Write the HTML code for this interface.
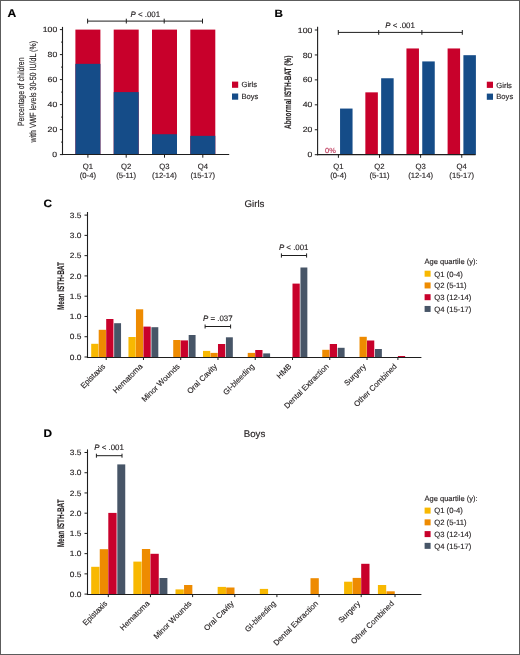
<!DOCTYPE html>
<html><head><meta charset="utf-8"><style>
html,body{margin:0;padding:0;background:#fff;}
body{width:520px;height:655px;overflow:hidden;}
svg{display:block;will-change:transform;opacity:0.999;font-family:"Liberation Sans",sans-serif;text-rendering:geometricPrecision;}
text{stroke-width:0.15px;paint-order:stroke;}
</style></head><body>
<svg width="520" height="655" viewBox="0 0 520 655">
<rect x="0" y="0" width="520" height="655" fill="#fff"/>
<rect x="75.40" y="29.60" width="25.00" height="125.00" fill="#c8002b"/>
<rect x="75.40" y="63.85" width="25.00" height="90.75" fill="#154c88"/>
<rect x="113.70" y="29.60" width="25.00" height="125.00" fill="#c8002b"/>
<rect x="113.70" y="92.10" width="25.00" height="62.50" fill="#154c88"/>
<rect x="152.00" y="29.60" width="25.00" height="125.00" fill="#c8002b"/>
<rect x="152.00" y="134.22" width="25.00" height="20.38" fill="#154c88"/>
<rect x="190.30" y="29.60" width="25.00" height="125.00" fill="#c8002b"/>
<rect x="190.30" y="135.85" width="25.00" height="18.75" fill="#154c88"/>
<rect x="232.00" y="81.60" width="6.20" height="6.20" fill="#c8002b"/>
<rect x="232.00" y="93.50" width="6.20" height="6.20" fill="#154c88"/>
<rect x="340.05" y="108.56" width="12.50" height="46.14" fill="#154c88"/>
<rect x="365.35" y="92.35" width="12.50" height="62.35" fill="#c8002b"/>
<rect x="381.15" y="78.26" width="12.50" height="76.44" fill="#154c88"/>
<rect x="406.45" y="48.46" width="12.50" height="106.24" fill="#c8002b"/>
<rect x="422.25" y="61.42" width="12.50" height="93.28" fill="#154c88"/>
<rect x="447.60" y="48.46" width="12.50" height="106.24" fill="#c8002b"/>
<rect x="463.40" y="55.19" width="12.50" height="99.51" fill="#154c88"/>
<rect x="486.80" y="81.70" width="6.20" height="6.20" fill="#c8002b"/>
<rect x="486.80" y="93.60" width="6.20" height="6.20" fill="#154c88"/>
<rect x="91.20" y="343.80" width="7.25" height="13.20" fill="#f8b800"/>
<rect x="98.70" y="329.80" width="7.25" height="27.20" fill="#ee8b00"/>
<rect x="106.20" y="319.00" width="7.25" height="38.00" fill="#c8002b"/>
<rect x="114.15" y="323.20" width="6.90" height="33.80" fill="#475567"/>
<rect x="128.46" y="337.00" width="7.25" height="20.00" fill="#f8b800"/>
<rect x="135.96" y="309.30" width="7.25" height="47.70" fill="#ee8b00"/>
<rect x="143.46" y="326.60" width="7.25" height="30.40" fill="#c8002b"/>
<rect x="151.41" y="327.20" width="6.90" height="29.80" fill="#475567"/>
<rect x="173.22" y="340.00" width="7.25" height="17.00" fill="#ee8b00"/>
<rect x="180.72" y="340.40" width="7.25" height="16.60" fill="#c8002b"/>
<rect x="188.67" y="335.00" width="6.90" height="22.00" fill="#475567"/>
<rect x="202.98" y="350.90" width="7.25" height="6.10" fill="#f8b800"/>
<rect x="210.48" y="352.90" width="7.25" height="4.10" fill="#ee8b00"/>
<rect x="217.98" y="344.00" width="7.25" height="13.00" fill="#c8002b"/>
<rect x="225.93" y="337.30" width="6.90" height="19.70" fill="#475567"/>
<rect x="247.74" y="352.90" width="7.25" height="4.10" fill="#ee8b00"/>
<rect x="255.24" y="350.00" width="7.25" height="7.00" fill="#c8002b"/>
<rect x="263.19" y="353.40" width="6.90" height="3.60" fill="#475567"/>
<rect x="292.50" y="283.60" width="7.25" height="73.40" fill="#c8002b"/>
<rect x="300.45" y="267.50" width="6.90" height="89.50" fill="#475567"/>
<rect x="322.26" y="349.80" width="7.25" height="7.20" fill="#ee8b00"/>
<rect x="329.76" y="344.00" width="7.25" height="13.00" fill="#c8002b"/>
<rect x="337.71" y="347.80" width="6.90" height="9.20" fill="#475567"/>
<rect x="359.52" y="336.80" width="7.25" height="20.20" fill="#ee8b00"/>
<rect x="367.02" y="340.50" width="7.25" height="16.50" fill="#c8002b"/>
<rect x="374.97" y="349.00" width="6.90" height="8.00" fill="#475567"/>
<rect x="397.90" y="356.00" width="7.25" height="1.00" fill="#c8002b"/>
<rect x="424.60" y="270.70" width="6.00" height="6.00" fill="#f8b800"/>
<rect x="424.60" y="282.45" width="6.00" height="6.00" fill="#ee8b00"/>
<rect x="424.60" y="294.20" width="6.00" height="6.00" fill="#c8002b"/>
<rect x="424.60" y="305.95" width="6.00" height="6.00" fill="#475567"/>
<rect x="91.20" y="566.80" width="8.30" height="27.30" fill="#f8b800"/>
<rect x="99.75" y="549.20" width="8.30" height="44.90" fill="#ee8b00"/>
<rect x="108.30" y="512.90" width="8.30" height="81.20" fill="#c8002b"/>
<rect x="117.30" y="464.40" width="7.95" height="129.70" fill="#475567"/>
<rect x="133.35" y="561.60" width="8.30" height="32.50" fill="#f8b800"/>
<rect x="141.90" y="549.00" width="8.30" height="45.10" fill="#ee8b00"/>
<rect x="150.45" y="553.80" width="8.30" height="40.30" fill="#c8002b"/>
<rect x="159.45" y="578.00" width="7.95" height="16.10" fill="#475567"/>
<rect x="175.50" y="589.40" width="8.30" height="4.70" fill="#f8b800"/>
<rect x="184.05" y="585.00" width="8.30" height="9.10" fill="#ee8b00"/>
<rect x="217.65" y="586.90" width="8.30" height="7.20" fill="#f8b800"/>
<rect x="226.20" y="587.50" width="8.30" height="6.60" fill="#ee8b00"/>
<rect x="259.80" y="588.90" width="8.30" height="5.20" fill="#f8b800"/>
<rect x="310.50" y="578.20" width="8.30" height="15.90" fill="#ee8b00"/>
<rect x="344.10" y="581.70" width="8.30" height="12.40" fill="#f8b800"/>
<rect x="352.65" y="577.90" width="8.30" height="16.20" fill="#ee8b00"/>
<rect x="361.20" y="563.80" width="8.30" height="30.30" fill="#c8002b"/>
<rect x="377.90" y="585.00" width="8.30" height="9.10" fill="#f8b800"/>
<rect x="386.45" y="591.30" width="8.30" height="2.80" fill="#ee8b00"/>
<rect x="424.60" y="507.60" width="6.00" height="6.00" fill="#f8b800"/>
<rect x="424.60" y="519.35" width="6.00" height="6.00" fill="#ee8b00"/>
<rect x="424.60" y="531.10" width="6.00" height="6.00" fill="#c8002b"/>
<rect x="424.60" y="542.85" width="6.00" height="6.00" fill="#475567"/>
<text transform="translate(7.4,17.2) scale(1.08,1)" font-size="11.2" font-weight="bold" fill="#000" stroke="#000">A</text>
<line x1="62.50" y1="26.90" x2="62.50" y2="155.05" stroke="#1e1e1e" stroke-width="1.1"/>
<line x1="61.95" y1="154.50" x2="229.20" y2="154.50" stroke="#1e1e1e" stroke-width="1.1"/>
<line x1="59.90" y1="154.60" x2="62.50" y2="154.60" stroke="#1e1e1e" stroke-width="1.0"/>
<text transform="translate(57.20,157.20) scale(1.14,1)" font-size="7.6" text-anchor="end" fill="#231f20" stroke="#231f20">0</text>
<line x1="61.00" y1="142.10" x2="62.50" y2="142.10" stroke="#1e1e1e" stroke-width="0.9"/>
<line x1="59.90" y1="129.60" x2="62.50" y2="129.60" stroke="#1e1e1e" stroke-width="1.0"/>
<text transform="translate(57.20,132.20) scale(1.14,1)" font-size="7.6" text-anchor="end" fill="#231f20" stroke="#231f20">20</text>
<line x1="61.00" y1="117.10" x2="62.50" y2="117.10" stroke="#1e1e1e" stroke-width="0.9"/>
<line x1="59.90" y1="104.60" x2="62.50" y2="104.60" stroke="#1e1e1e" stroke-width="1.0"/>
<text transform="translate(57.20,107.20) scale(1.14,1)" font-size="7.6" text-anchor="end" fill="#231f20" stroke="#231f20">40</text>
<line x1="61.00" y1="92.10" x2="62.50" y2="92.10" stroke="#1e1e1e" stroke-width="0.9"/>
<line x1="59.90" y1="79.60" x2="62.50" y2="79.60" stroke="#1e1e1e" stroke-width="1.0"/>
<text transform="translate(57.20,82.20) scale(1.14,1)" font-size="7.6" text-anchor="end" fill="#231f20" stroke="#231f20">60</text>
<line x1="61.00" y1="67.10" x2="62.50" y2="67.10" stroke="#1e1e1e" stroke-width="0.9"/>
<line x1="59.90" y1="54.60" x2="62.50" y2="54.60" stroke="#1e1e1e" stroke-width="1.0"/>
<text transform="translate(57.20,57.20) scale(1.14,1)" font-size="7.6" text-anchor="end" fill="#231f20" stroke="#231f20">80</text>
<line x1="61.00" y1="42.10" x2="62.50" y2="42.10" stroke="#1e1e1e" stroke-width="0.9"/>
<line x1="59.90" y1="29.60" x2="62.50" y2="29.60" stroke="#1e1e1e" stroke-width="1.0"/>
<text transform="translate(57.20,32.20) scale(1.14,1)" font-size="7.6" text-anchor="end" fill="#231f20" stroke="#231f20">100</text>
<line x1="87.90" y1="154.60" x2="87.90" y2="157.70" stroke="#1e1e1e" stroke-width="1.0"/>
<text x="87.90" y="169.20" font-size="7.7" text-anchor="middle" font-weight="normal" fill="#231f20" stroke="#231f20" >Q1</text>
<text x="87.90" y="177.90" font-size="7.7" text-anchor="middle" font-weight="normal" fill="#231f20" stroke="#231f20" >(0-4)</text>
<line x1="126.20" y1="154.60" x2="126.20" y2="157.70" stroke="#1e1e1e" stroke-width="1.0"/>
<text x="126.20" y="169.20" font-size="7.7" text-anchor="middle" font-weight="normal" fill="#231f20" stroke="#231f20" >Q2</text>
<text x="126.20" y="177.90" font-size="7.7" text-anchor="middle" font-weight="normal" fill="#231f20" stroke="#231f20" >(5-11)</text>
<line x1="164.50" y1="154.60" x2="164.50" y2="157.70" stroke="#1e1e1e" stroke-width="1.0"/>
<text x="164.50" y="169.20" font-size="7.7" text-anchor="middle" font-weight="normal" fill="#231f20" stroke="#231f20" >Q3</text>
<text x="164.50" y="177.90" font-size="7.7" text-anchor="middle" font-weight="normal" fill="#231f20" stroke="#231f20" >(12-14)</text>
<line x1="202.80" y1="154.60" x2="202.80" y2="157.70" stroke="#1e1e1e" stroke-width="1.0"/>
<text x="202.80" y="169.20" font-size="7.7" text-anchor="middle" font-weight="normal" fill="#231f20" stroke="#231f20" >Q4</text>
<text x="202.80" y="177.90" font-size="7.7" text-anchor="middle" font-weight="normal" fill="#231f20" stroke="#231f20" >(15-17)</text>
<line x1="87.60" y1="21.10" x2="202.50" y2="21.10" stroke="#1e1e1e" stroke-width="1.0"/>
<line x1="87.60" y1="18.70" x2="87.60" y2="23.50" stroke="#1e1e1e" stroke-width="1.0"/>
<line x1="202.50" y1="18.70" x2="202.50" y2="23.50" stroke="#1e1e1e" stroke-width="1.0"/>
<line x1="126.30" y1="18.70" x2="126.30" y2="23.50" stroke="#1e1e1e" stroke-width="1.0"/>
<line x1="164.20" y1="18.70" x2="164.20" y2="23.50" stroke="#1e1e1e" stroke-width="1.0"/>
<text x="145.35" y="16.60" font-size="7.9" text-anchor="middle" fill="#231f20" stroke="#231f20"><tspan font-style="italic">P</tspan> &lt; .001</text>
<text x="241.50" y="87.40" font-size="7.6" text-anchor="start" font-weight="normal" fill="#231f20" stroke="#231f20" >Girls</text>
<text x="241.50" y="99.30" font-size="7.6" text-anchor="start" font-weight="normal" fill="#231f20" stroke="#231f20" >Boys</text>
<text transform="translate(23.80,91.80) rotate(-90)" font-size="9.0" text-anchor="middle" font-weight="normal" fill="#231f20" stroke="#231f20" textLength="68.5" lengthAdjust="spacingAndGlyphs">Percentage of children</text>
<text transform="translate(35.70,91.80) rotate(-90)" font-size="9.0" text-anchor="middle" font-weight="normal" fill="#231f20" stroke="#231f20" textLength="101.6" lengthAdjust="spacingAndGlyphs">with VWF levels 30-50 IU/dL (%)</text>
<text transform="translate(274.6,17.4) scale(1.1,1)" font-size="10.6" font-weight="bold" fill="#000" stroke="#000">B</text>
<line x1="317.60" y1="26.80" x2="317.60" y2="155.15" stroke="#1e1e1e" stroke-width="1.1"/>
<line x1="317.05" y1="154.60" x2="475.60" y2="154.60" stroke="#1e1e1e" stroke-width="1.1"/>
<line x1="314.80" y1="154.70" x2="317.60" y2="154.70" stroke="#1e1e1e" stroke-width="1.0"/>
<text transform="translate(312.30,157.30) scale(1.14,1)" font-size="7.6" text-anchor="end" fill="#231f20" stroke="#231f20">0</text>
<line x1="314.80" y1="129.76" x2="317.60" y2="129.76" stroke="#1e1e1e" stroke-width="1.0"/>
<text transform="translate(312.30,132.36) scale(1.14,1)" font-size="7.6" text-anchor="end" fill="#231f20" stroke="#231f20">20</text>
<line x1="314.80" y1="104.82" x2="317.60" y2="104.82" stroke="#1e1e1e" stroke-width="1.0"/>
<text transform="translate(312.30,107.42) scale(1.14,1)" font-size="7.6" text-anchor="end" fill="#231f20" stroke="#231f20">40</text>
<line x1="314.80" y1="79.88" x2="317.60" y2="79.88" stroke="#1e1e1e" stroke-width="1.0"/>
<text transform="translate(312.30,82.48) scale(1.14,1)" font-size="7.6" text-anchor="end" fill="#231f20" stroke="#231f20">60</text>
<line x1="314.80" y1="54.94" x2="317.60" y2="54.94" stroke="#1e1e1e" stroke-width="1.0"/>
<text transform="translate(312.30,57.54) scale(1.14,1)" font-size="7.6" text-anchor="end" fill="#231f20" stroke="#231f20">80</text>
<line x1="314.80" y1="30.00" x2="317.60" y2="30.00" stroke="#1e1e1e" stroke-width="1.0"/>
<text transform="translate(312.30,32.60) scale(1.14,1)" font-size="7.6" text-anchor="end" fill="#231f20" stroke="#231f20">100</text>
<line x1="338.40" y1="154.70" x2="338.40" y2="157.80" stroke="#1e1e1e" stroke-width="1.0"/>
<text x="338.40" y="169.20" font-size="7.7" text-anchor="middle" font-weight="normal" fill="#231f20" stroke="#231f20" >Q1</text>
<text x="338.40" y="177.90" font-size="7.7" text-anchor="middle" font-weight="normal" fill="#231f20" stroke="#231f20" >(0-4)</text>
<line x1="379.50" y1="154.70" x2="379.50" y2="157.80" stroke="#1e1e1e" stroke-width="1.0"/>
<text x="379.50" y="169.20" font-size="7.7" text-anchor="middle" font-weight="normal" fill="#231f20" stroke="#231f20" >Q2</text>
<text x="379.50" y="177.90" font-size="7.7" text-anchor="middle" font-weight="normal" fill="#231f20" stroke="#231f20" >(5-11)</text>
<line x1="420.60" y1="154.70" x2="420.60" y2="157.80" stroke="#1e1e1e" stroke-width="1.0"/>
<text x="420.60" y="169.20" font-size="7.7" text-anchor="middle" font-weight="normal" fill="#231f20" stroke="#231f20" >Q3</text>
<text x="420.60" y="177.90" font-size="7.7" text-anchor="middle" font-weight="normal" fill="#231f20" stroke="#231f20" >(12-14)</text>
<line x1="461.75" y1="154.70" x2="461.75" y2="157.80" stroke="#1e1e1e" stroke-width="1.0"/>
<text x="461.75" y="169.20" font-size="7.7" text-anchor="middle" font-weight="normal" fill="#231f20" stroke="#231f20" >Q4</text>
<text x="461.75" y="177.90" font-size="7.7" text-anchor="middle" font-weight="normal" fill="#231f20" stroke="#231f20" >(15-17)</text>
<text x="330.40" y="152.70" font-size="7.4" text-anchor="middle" font-weight="normal" fill="#bf3a5c" stroke="#bf3a5c" >0%</text>
<line x1="338.30" y1="32.40" x2="462.30" y2="32.40" stroke="#1e1e1e" stroke-width="1.0"/>
<line x1="338.30" y1="30.00" x2="338.30" y2="34.80" stroke="#1e1e1e" stroke-width="1.0"/>
<line x1="462.30" y1="30.00" x2="462.30" y2="34.80" stroke="#1e1e1e" stroke-width="1.0"/>
<line x1="378.70" y1="30.00" x2="378.70" y2="34.80" stroke="#1e1e1e" stroke-width="1.0"/>
<line x1="421.90" y1="30.00" x2="421.90" y2="34.80" stroke="#1e1e1e" stroke-width="1.0"/>
<text x="400.07" y="27.70" font-size="7.9" text-anchor="middle" fill="#231f20" stroke="#231f20"><tspan font-style="italic">P</tspan> &lt; .001</text>
<text x="496.30" y="87.50" font-size="7.6" text-anchor="start" font-weight="normal" fill="#231f20" stroke="#231f20" >Girls</text>
<text x="496.30" y="99.40" font-size="7.6" text-anchor="start" font-weight="normal" fill="#231f20" stroke="#231f20" >Boys</text>
<text transform="translate(291.30,92.30) rotate(-90)" font-size="9.4" text-anchor="middle" font-weight="bold" fill="#231f20" stroke="#231f20" textLength="73.2" lengthAdjust="spacingAndGlyphs">Abnormal ISTH-BAT (%)</text>
<text transform="translate(43.4,206.8) scale(1.1,1)" font-size="10.8" font-weight="bold" fill="#000" stroke="#000">C</text>
<text x="254.50" y="206.50" font-size="9.7" text-anchor="middle" font-weight="normal" fill="#231f20" stroke="#231f20" >Girls</text>
<line x1="87.50" y1="212.00" x2="87.50" y2="358.05" stroke="#1e1e1e" stroke-width="1.1"/>
<line x1="86.95" y1="357.50" x2="421.40" y2="357.50" stroke="#1e1e1e" stroke-width="1.1"/>
<line x1="84.50" y1="357.00" x2="87.50" y2="357.00" stroke="#1e1e1e" stroke-width="1.0"/>
<text transform="translate(81.40,359.70) scale(1.09,1)" font-size="7.7" text-anchor="end" fill="#231f20" stroke="#231f20">0.0</text>
<line x1="84.50" y1="336.73" x2="87.50" y2="336.73" stroke="#1e1e1e" stroke-width="1.0"/>
<text transform="translate(81.40,339.43) scale(1.09,1)" font-size="7.7" text-anchor="end" fill="#231f20" stroke="#231f20">0.5</text>
<line x1="84.50" y1="316.46" x2="87.50" y2="316.46" stroke="#1e1e1e" stroke-width="1.0"/>
<text transform="translate(81.40,319.16) scale(1.09,1)" font-size="7.7" text-anchor="end" fill="#231f20" stroke="#231f20">1.0</text>
<line x1="84.50" y1="296.19" x2="87.50" y2="296.19" stroke="#1e1e1e" stroke-width="1.0"/>
<text transform="translate(81.40,298.89) scale(1.09,1)" font-size="7.7" text-anchor="end" fill="#231f20" stroke="#231f20">1.5</text>
<line x1="84.50" y1="275.92" x2="87.50" y2="275.92" stroke="#1e1e1e" stroke-width="1.0"/>
<text transform="translate(81.40,278.62) scale(1.09,1)" font-size="7.7" text-anchor="end" fill="#231f20" stroke="#231f20">2.0</text>
<line x1="84.50" y1="255.65" x2="87.50" y2="255.65" stroke="#1e1e1e" stroke-width="1.0"/>
<text transform="translate(81.40,258.35) scale(1.09,1)" font-size="7.7" text-anchor="end" fill="#231f20" stroke="#231f20">2.5</text>
<line x1="84.50" y1="235.38" x2="87.50" y2="235.38" stroke="#1e1e1e" stroke-width="1.0"/>
<text transform="translate(81.40,238.08) scale(1.09,1)" font-size="7.7" text-anchor="end" fill="#231f20" stroke="#231f20">3.0</text>
<line x1="84.50" y1="215.11" x2="87.50" y2="215.11" stroke="#1e1e1e" stroke-width="1.0"/>
<text transform="translate(81.40,217.81) scale(1.09,1)" font-size="7.7" text-anchor="end" fill="#231f20" stroke="#231f20">3.5</text>
<line x1="106.20" y1="357.00" x2="106.20" y2="360.00" stroke="#1e1e1e" stroke-width="1.0"/>
<text transform="translate(105.70,366.90) rotate(-45)" font-size="7.8" text-anchor="end" fill="#231f20" stroke="#231f20">Epistaxis</text>
<line x1="143.46" y1="357.00" x2="143.46" y2="360.00" stroke="#1e1e1e" stroke-width="1.0"/>
<text transform="translate(142.96,366.90) rotate(-45)" font-size="7.8" text-anchor="end" fill="#231f20" stroke="#231f20">Hematoma</text>
<line x1="180.72" y1="357.00" x2="180.72" y2="360.00" stroke="#1e1e1e" stroke-width="1.0"/>
<text transform="translate(180.22,366.90) rotate(-45)" font-size="7.8" text-anchor="end" fill="#231f20" stroke="#231f20">Minor Wounds</text>
<line x1="217.98" y1="357.00" x2="217.98" y2="360.00" stroke="#1e1e1e" stroke-width="1.0"/>
<text transform="translate(217.48,366.90) rotate(-45)" font-size="7.8" text-anchor="end" fill="#231f20" stroke="#231f20">Oral Cavity</text>
<line x1="255.24" y1="357.00" x2="255.24" y2="360.00" stroke="#1e1e1e" stroke-width="1.0"/>
<text transform="translate(254.74,366.90) rotate(-45)" font-size="7.8" text-anchor="end" fill="#231f20" stroke="#231f20">GI-bleeding</text>
<line x1="292.50" y1="357.00" x2="292.50" y2="360.00" stroke="#1e1e1e" stroke-width="1.0"/>
<text transform="translate(292.00,366.90) rotate(-45)" font-size="7.8" text-anchor="end" fill="#231f20" stroke="#231f20">HMB</text>
<line x1="329.76" y1="357.00" x2="329.76" y2="360.00" stroke="#1e1e1e" stroke-width="1.0"/>
<text transform="translate(329.26,366.90) rotate(-45)" font-size="7.8" text-anchor="end" fill="#231f20" stroke="#231f20">Dental Extraction</text>
<line x1="367.02" y1="357.00" x2="367.02" y2="360.00" stroke="#1e1e1e" stroke-width="1.0"/>
<text transform="translate(366.52,366.90) rotate(-45)" font-size="7.8" text-anchor="end" fill="#231f20" stroke="#231f20">Surgery</text>
<line x1="397.90" y1="357.00" x2="397.90" y2="360.00" stroke="#1e1e1e" stroke-width="1.0"/>
<text transform="translate(397.40,366.90) rotate(-45)" font-size="7.8" text-anchor="end" fill="#231f20" stroke="#231f20">Other Combined</text>
<line x1="205.10" y1="326.50" x2="230.60" y2="326.50" stroke="#1e1e1e" stroke-width="1.0"/>
<line x1="205.10" y1="324.50" x2="205.10" y2="328.50" stroke="#1e1e1e" stroke-width="1.0"/>
<line x1="230.60" y1="324.50" x2="230.60" y2="328.50" stroke="#1e1e1e" stroke-width="1.0"/>
<text x="217.80" y="320.90" font-size="7.9" text-anchor="middle" fill="#231f20" stroke="#231f20"><tspan font-style="italic">P</tspan> = .037</text>
<text x="424.60" y="263.90" font-size="7.5" text-anchor="start" font-weight="normal" fill="#231f20" stroke="#231f20" >Age quartile (y):</text>
<text x="434.20" y="276.50" font-size="7.7" text-anchor="start" font-weight="normal" fill="#231f20" stroke="#231f20" >Q1 (0-4)</text>
<text x="434.20" y="288.25" font-size="7.7" text-anchor="start" font-weight="normal" fill="#231f20" stroke="#231f20" >Q2 (5-11)</text>
<text x="434.20" y="300.00" font-size="7.7" text-anchor="start" font-weight="normal" fill="#231f20" stroke="#231f20" >Q3 (12-14)</text>
<text x="434.20" y="311.75" font-size="7.7" text-anchor="start" font-weight="normal" fill="#231f20" stroke="#231f20" >Q4 (15-17)</text>
<text transform="translate(63.60,286.06) rotate(-90)" font-size="9.6" text-anchor="middle" font-weight="bold" fill="#231f20" stroke="#231f20" textLength="48.0" lengthAdjust="spacingAndGlyphs">Mean ISTH-BAT</text>
<line x1="281.40" y1="255.50" x2="306.60" y2="255.50" stroke="#1e1e1e" stroke-width="1.0"/>
<line x1="281.40" y1="253.40" x2="281.40" y2="257.60" stroke="#1e1e1e" stroke-width="1.0"/>
<line x1="306.60" y1="253.40" x2="306.60" y2="257.60" stroke="#1e1e1e" stroke-width="1.0"/>
<text x="293.70" y="249.80" font-size="7.9" text-anchor="middle" fill="#231f20" stroke="#231f20"><tspan font-style="italic">P</tspan> &lt; .001</text>
<text transform="translate(43.4,436.9) scale(1.1,1)" font-size="10.8" font-weight="bold" fill="#000" stroke="#000">D</text>
<text x="254.50" y="437.30" font-size="9.7" text-anchor="middle" font-weight="normal" fill="#231f20" stroke="#231f20" >Boys</text>
<line x1="87.50" y1="449.40" x2="87.50" y2="595.05" stroke="#1e1e1e" stroke-width="1.1"/>
<line x1="86.95" y1="594.50" x2="421.40" y2="594.50" stroke="#1e1e1e" stroke-width="1.1"/>
<line x1="84.50" y1="594.10" x2="87.50" y2="594.10" stroke="#1e1e1e" stroke-width="1.0"/>
<text transform="translate(81.40,596.80) scale(1.09,1)" font-size="7.7" text-anchor="end" fill="#231f20" stroke="#231f20">0.0</text>
<line x1="84.50" y1="573.87" x2="87.50" y2="573.87" stroke="#1e1e1e" stroke-width="1.0"/>
<text transform="translate(81.40,576.57) scale(1.09,1)" font-size="7.7" text-anchor="end" fill="#231f20" stroke="#231f20">0.5</text>
<line x1="84.50" y1="553.64" x2="87.50" y2="553.64" stroke="#1e1e1e" stroke-width="1.0"/>
<text transform="translate(81.40,556.34) scale(1.09,1)" font-size="7.7" text-anchor="end" fill="#231f20" stroke="#231f20">1.0</text>
<line x1="84.50" y1="533.41" x2="87.50" y2="533.41" stroke="#1e1e1e" stroke-width="1.0"/>
<text transform="translate(81.40,536.11) scale(1.09,1)" font-size="7.7" text-anchor="end" fill="#231f20" stroke="#231f20">1.5</text>
<line x1="84.50" y1="513.18" x2="87.50" y2="513.18" stroke="#1e1e1e" stroke-width="1.0"/>
<text transform="translate(81.40,515.88) scale(1.09,1)" font-size="7.7" text-anchor="end" fill="#231f20" stroke="#231f20">2.0</text>
<line x1="84.50" y1="492.95" x2="87.50" y2="492.95" stroke="#1e1e1e" stroke-width="1.0"/>
<text transform="translate(81.40,495.65) scale(1.09,1)" font-size="7.7" text-anchor="end" fill="#231f20" stroke="#231f20">2.5</text>
<line x1="84.50" y1="472.72" x2="87.50" y2="472.72" stroke="#1e1e1e" stroke-width="1.0"/>
<text transform="translate(81.40,475.42) scale(1.09,1)" font-size="7.7" text-anchor="end" fill="#231f20" stroke="#231f20">3.0</text>
<line x1="84.50" y1="452.49" x2="87.50" y2="452.49" stroke="#1e1e1e" stroke-width="1.0"/>
<text transform="translate(81.40,455.19) scale(1.09,1)" font-size="7.7" text-anchor="end" fill="#231f20" stroke="#231f20">3.5</text>
<line x1="108.30" y1="594.10" x2="108.30" y2="597.10" stroke="#1e1e1e" stroke-width="1.0"/>
<text transform="translate(107.80,604.00) rotate(-45)" font-size="7.8" text-anchor="end" fill="#231f20" stroke="#231f20">Epistaxis</text>
<line x1="150.45" y1="594.10" x2="150.45" y2="597.10" stroke="#1e1e1e" stroke-width="1.0"/>
<text transform="translate(149.95,604.00) rotate(-45)" font-size="7.8" text-anchor="end" fill="#231f20" stroke="#231f20">Hematoma</text>
<line x1="192.60" y1="594.10" x2="192.60" y2="597.10" stroke="#1e1e1e" stroke-width="1.0"/>
<text transform="translate(192.10,604.00) rotate(-45)" font-size="7.8" text-anchor="end" fill="#231f20" stroke="#231f20">Minor Wounds</text>
<line x1="234.75" y1="594.10" x2="234.75" y2="597.10" stroke="#1e1e1e" stroke-width="1.0"/>
<text transform="translate(234.25,604.00) rotate(-45)" font-size="7.8" text-anchor="end" fill="#231f20" stroke="#231f20">Oral Cavity</text>
<line x1="276.90" y1="594.10" x2="276.90" y2="597.10" stroke="#1e1e1e" stroke-width="1.0"/>
<text transform="translate(276.40,604.00) rotate(-45)" font-size="7.8" text-anchor="end" fill="#231f20" stroke="#231f20">GI-bleeding</text>
<line x1="319.05" y1="594.10" x2="319.05" y2="597.10" stroke="#1e1e1e" stroke-width="1.0"/>
<text transform="translate(318.55,604.00) rotate(-45)" font-size="7.8" text-anchor="end" fill="#231f20" stroke="#231f20">Dental Extraction</text>
<line x1="361.20" y1="594.10" x2="361.20" y2="597.10" stroke="#1e1e1e" stroke-width="1.0"/>
<text transform="translate(360.70,604.00) rotate(-45)" font-size="7.8" text-anchor="end" fill="#231f20" stroke="#231f20">Surgery</text>
<line x1="395.00" y1="594.10" x2="395.00" y2="597.10" stroke="#1e1e1e" stroke-width="1.0"/>
<text transform="translate(394.50,604.00) rotate(-45)" font-size="7.8" text-anchor="end" fill="#231f20" stroke="#231f20">Other Combined</text>
<line x1="96.40" y1="455.70" x2="122.00" y2="455.70" stroke="#1e1e1e" stroke-width="1.0"/>
<line x1="96.40" y1="453.70" x2="96.40" y2="457.70" stroke="#1e1e1e" stroke-width="1.0"/>
<line x1="122.00" y1="453.70" x2="122.00" y2="457.70" stroke="#1e1e1e" stroke-width="1.0"/>
<text x="109.10" y="449.80" font-size="7.9" text-anchor="middle" fill="#231f20" stroke="#231f20"><tspan font-style="italic">P</tspan> &lt; .001</text>
<text x="424.60" y="500.80" font-size="7.5" text-anchor="start" font-weight="normal" fill="#231f20" stroke="#231f20" >Age quartile (y):</text>
<text x="434.20" y="513.40" font-size="7.7" text-anchor="start" font-weight="normal" fill="#231f20" stroke="#231f20" >Q1 (0-4)</text>
<text x="434.20" y="525.15" font-size="7.7" text-anchor="start" font-weight="normal" fill="#231f20" stroke="#231f20" >Q2 (5-11)</text>
<text x="434.20" y="536.90" font-size="7.7" text-anchor="start" font-weight="normal" fill="#231f20" stroke="#231f20" >Q3 (12-14)</text>
<text x="434.20" y="548.65" font-size="7.7" text-anchor="start" font-weight="normal" fill="#231f20" stroke="#231f20" >Q4 (15-17)</text>
<text transform="translate(63.60,523.30) rotate(-90)" font-size="9.6" text-anchor="middle" font-weight="bold" fill="#231f20" stroke="#231f20" textLength="48.0" lengthAdjust="spacingAndGlyphs">Mean ISTH-BAT</text>
<rect x="0.5" y="0.5" width="519" height="654" fill="none" stroke="#5c5c5c" stroke-width="1"/>
</svg>
</body></html>
